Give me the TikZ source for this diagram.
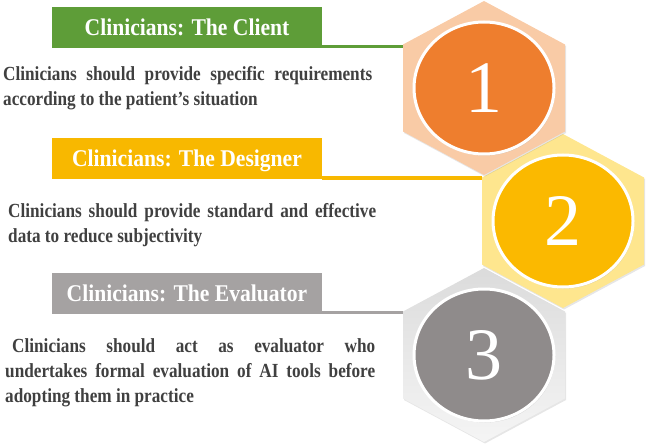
\documentclass[tikz,border=0pt]{standalone}
\usepackage{fontspec}
\setmainfont{Liberation Serif}[FakeStretch=0.86]
\newfontfamily\titlefont{Liberation Serif}[FakeStretch=0.9]
\newfontfamily\digitfont{Liberation Serif}
\usetikzlibrary{shapes.geometric,shadows}
\definecolor{clientgreen}{HTML}{5E9D38}
\definecolor{designgold}{HTML}{F8B800}
\definecolor{evalgray}{HTML}{A5A2A2}
\definecolor{bodygray}{HTML}{404040}
\definecolor{hexpeach}{HTML}{F9CBA6}
\definecolor{hexyellow}{HTML}{FEE68E}
\definecolor{ballorange}{HTML}{EE7E2E}
\definecolor{ballgold}{HTML}{FBB900}
\definecolor{ballgray}{HTML}{8F8B8B}
\tolerance=9999
\hyphenpenalty=10000
\tikzset{
  banner/.style={fill=#1, minimum width=270pt, minimum height=41pt, inner sep=0pt,
    text=white, text height=16pt, text depth=0pt,
    font=\titlefont\bfseries\fontsize{24}{24}\selectfont},
  link/.style={draw=#1, line width=3.5pt},
  body/.style={anchor=base west, inner sep=0pt, align=justify, text=bodygray,
    font=\bfseries\fontsize{20}{25}\selectfont},
  ball/.style={ellipse, minimum width=140pt, minimum height=132pt, inner sep=0pt,
    draw=white, line width=3pt, fill=#1, text=white,
    font=\digitfont\fontsize{74}{74}\selectfont,
    drop shadow={opacity=0.3, shadow xshift=1pt, shadow yshift=-1.5pt}},
  cell/.style={drop shadow={opacity=0.2, shadow xshift=1pt, shadow yshift=-1.5pt}}
}
\begin{document}
\begin{tikzpicture}[x=1pt,y=-1pt]
  \useasboundingbox (0,0) rectangle (647,446);
  \coordinate (h1) at (484,88);
  \coordinate (h2) at (563,221);
  \coordinate (h3) at (484,355);
  \coordinate (h1-ul) at (484-81,88-43.5);
  \coordinate (h2-ul) at (563-81,221-43.5);
  \coordinate (h3-ul) at (484-81,355-43.5);
  \shade[cell, top color=gray!28, bottom color=gray!8] (h3) ++(0,-87) -- ++(81,43.5) -- ++(0,87) -- ++(-81,43.5) -- ++(-81,-43.5) -- ++(0,-87) -- cycle;
  \fill[cell, hexyellow] (h2) ++(0,-87) -- ++(81,43.5) -- ++(0,87) -- ++(-81,43.5) -- ++(-81,-43.5) -- ++(0,-87) -- cycle;
  \fill[cell, hexpeach] (h1) ++(0,-87) -- ++(81,43.5) -- ++(0,87) -- ++(-81,43.5) -- ++(-81,-43.5) -- ++(0,-87) -- cycle;
  \node[ball=ballorange] (one) at (h1) {1};
  \node[ball=ballgold] (two) at (h2) {2};
  \node[ball=ballgray] (three) at (h3) {3};

  \node[banner=clientgreen] (client) at (187,27.5) {Clinicians: The Client};
  \node[banner=designgold] (designer) at (187,159) {Clinicians: The Designer};
  \node[banner=evalgray] (evaluator) at (187,293.5) {Clinicians: The Evaluator};
  \draw[link=clientgreen] ([yshift=1.75pt]client.south east) -- ([yshift=1.75pt]client.south east -| h1-ul);
  \draw[link=designgold] ([yshift=1.75pt]designer.south east) -- ([yshift=1.75pt]designer.south east -| h2-ul);
  \draw[link=evalgray] ([yshift=1.75pt]evaluator.south east) -- ([yshift=1.75pt]evaluator.south east -| h3-ul);

  \node[body, text width=369pt] (clienttext) at (3,80.7) {Clinicians should provide specific requirements\linebreak according to the patient's situation};
  \node[body, text width=368pt] (designertext) at (8,217.5) {Clinicians should provide standard and effective\linebreak data to reduce subjectivity};
  \node[body, text width=370pt] (evaluatortext) at (5,352.7) {\hspace*{7pt}Clinicians should act as evaluator who\linebreak undertakes formal evaluation of AI tools before\linebreak adopting them in practice};
\end{tikzpicture}
\end{document}
